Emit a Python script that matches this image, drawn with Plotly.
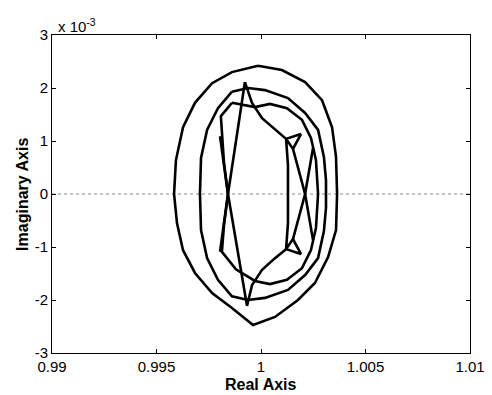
import plotly.graph_objects as go

# Outer locus
outer_re = [0.99986, 1.00100, 1.00211, 1.00292, 1.00340, 1.00359, 1.00364, 1.00359,
            1.00321, 1.00258, 1.00177, 1.00067, 0.99962, 0.99861, 0.99766, 0.99684,
            0.99627, 0.99598, 0.99584, 0.99593, 0.99627, 0.99684, 0.99766, 0.99861, 0.99986]
outer_im = [2.42e-3, 2.34e-3, 2.11e-3, 1.77e-3, 1.26e-3, 0.70e-3, 0.0, -0.68e-3,
            -1.19e-3, -1.68e-3, -2.00e-3, -2.32e-3, -2.47e-3, -2.15e-3, -1.87e-3, -1.49e-3,
            -1.06e-3, -0.55e-3, 0.0, 0.64e-3, 1.26e-3, 1.72e-3, 2.09e-3, 2.30e-3, 2.42e-3]

# Second locus
mid_re = [0.99861, 0.99938, 1.00019, 1.00129, 1.00211, 1.00273, 1.00301, 1.00311, 1.00311,
          1.00301, 1.00273, 1.00211, 1.00129, 1.00019, 0.99938, 0.99861, 0.99794, 0.99742,
          0.99713, 0.99708, 0.99713, 0.99742, 0.99794, 0.99861]
mid_im = [1.93e-3, 2.00e-3, 1.96e-3, 1.81e-3, 1.53e-3, 1.21e-3, 0.70e-3, 0.26e-3, -0.26e-3,
          -0.70e-3, -1.21e-3, -1.53e-3, -1.81e-3, -1.96e-3, -2.00e-3, -1.93e-3, -1.62e-3, -1.21e-3,
          -0.68e-3, 0.0, 0.68e-3, 1.21e-3, 1.62e-3, 1.93e-3]

# Third locus
inner_re = [0.99861, 0.99971, 1.00043, 1.00124, 1.00196, 1.00239, 1.00263, 1.00273, 1.00263,
            1.00239, 1.00196, 1.00124, 1.00043, 0.99971, 0.99880, 0.99813, 0.99823, 0.99842,
            0.99823, 0.99813, 0.99808, 0.99861]
inner_im = [1.72e-3, 1.64e-3, 1.70e-3, 1.62e-3, 1.40e-3, 1.06e-3, 0.64e-3, 0.0, -0.64e-3,
            -1.06e-3, -1.40e-3, -1.62e-3, -1.70e-3, -1.64e-3, -1.42e-3, -1.09e-3, -0.58e-3, 0.0,
            0.58e-3, 1.09e-3, 1.47e-3, 1.72e-3]

# Star-shaped locus (None separates its branches)
star_re = [0.99923, 0.99957, 1.00005, 1.00067, 1.00120, 1.00191, 1.00153, 1.00120, 1.00129,
           1.00129, 1.00129, 1.00120, 1.00153, 1.00191, 1.00120, 1.00067, 1.00005, 0.99957,
           0.99933, 0.99842, 0.99804, None,
           0.99923, 0.99842, 0.99804, None,
           1.00153, 1.00211, 1.00249, None,
           1.00153, 1.00211, 1.00249]
star_im = [2.11e-3, 1.72e-3, 1.43e-3, 1.21e-3, 1.04e-3, 1.13e-3, 0.85e-3, 1.04e-3, 0.55e-3,
           0.0, -0.55e-3, -1.04e-3, -0.85e-3, -1.13e-3, -1.04e-3, -1.21e-3, -1.43e-3, -1.72e-3,
           -2.11e-3, 0.0, 1.09e-3, None,
           2.11e-3, 0.0, -1.09e-3, None,
           0.85e-3, 0.0, -0.87e-3, None,
           -0.85e-3, 0.0, 0.87e-3]

x_ticks = [0.99, 0.995, 1.0, 1.005, 1.01]
x_tick_text = ["0.99", "0.995", "1", "1.005", "1.01"]
y_ticks = [-3e-3, -2e-3, -1e-3, 0.0, 1e-3, 2e-3, 3e-3]
y_tick_text = ["-3", "-2", "-1", "0", "1", "2", "3"]

line_style = dict(color="black", width=2.6)

fig = go.Figure()

# dotted real axis
fig.add_trace(go.Scatter(x=[0.99, 1.01], y=[0.0, 0.0], mode="lines",
                         line=dict(color="#8a8a8a", width=1, dash="dot"),
                         hoverinfo="skip", showlegend=False))

for re, im in [(outer_re, outer_im), (mid_re, mid_im), (inner_re, inner_im), (star_re, star_im)]:
    fig.add_trace(go.Scatter(x=re, y=im, mode="lines", line=line_style,
                             connectgaps=False, showlegend=False))

family = "Liberation Sans, Arial, sans-serif"
axis_font = dict(family=family, size=15, color="black")
title_font = dict(family=family, size=16, color="black")

fig.update_layout(
    width=492, height=395,
    margin=dict(l=52, r=22, t=35, b=42),
    paper_bgcolor="white", plot_bgcolor="white",
    font=axis_font,
    xaxis=dict(range=[0.99, 1.01], tickvals=x_ticks, ticktext=x_tick_text,
               showgrid=False, zeroline=False, showline=True, linecolor="black",
               linewidth=1, mirror="ticks", ticks="inside", ticklen=4, tickcolor="black",
               tickfont=axis_font, automargin=False),
    yaxis=dict(range=[-3e-3, 3e-3], tickvals=y_ticks, ticktext=y_tick_text,
               showgrid=False, zeroline=False, showline=True, linecolor="black",
               linewidth=1, mirror="ticks", ticks="inside", ticklen=4, tickcolor="black",
               tickfont=axis_font, automargin=False),
    annotations=[
        dict(text="x 10<sup>-3</sup>", xref="paper", yref="paper",
             x=0.0, y=1.0, xanchor="left", yanchor="bottom", showarrow=False,
             xshift=4, yshift=-2, font=dict(family=family, size=15, color="black")),
        dict(text="<b>Real Axis</b>", xref="paper", yref="paper",
             x=0.5, y=-0.098, xanchor="center", yanchor="middle", showarrow=False,
             font=title_font),
        dict(text="<b>Imaginary Axis</b>", xref="paper", yref="paper",
             x=-0.072, y=0.5, xanchor="center", yanchor="middle", showarrow=False,
             textangle=-90, font=title_font),
    ],
)

fig.write_html("out.html")
